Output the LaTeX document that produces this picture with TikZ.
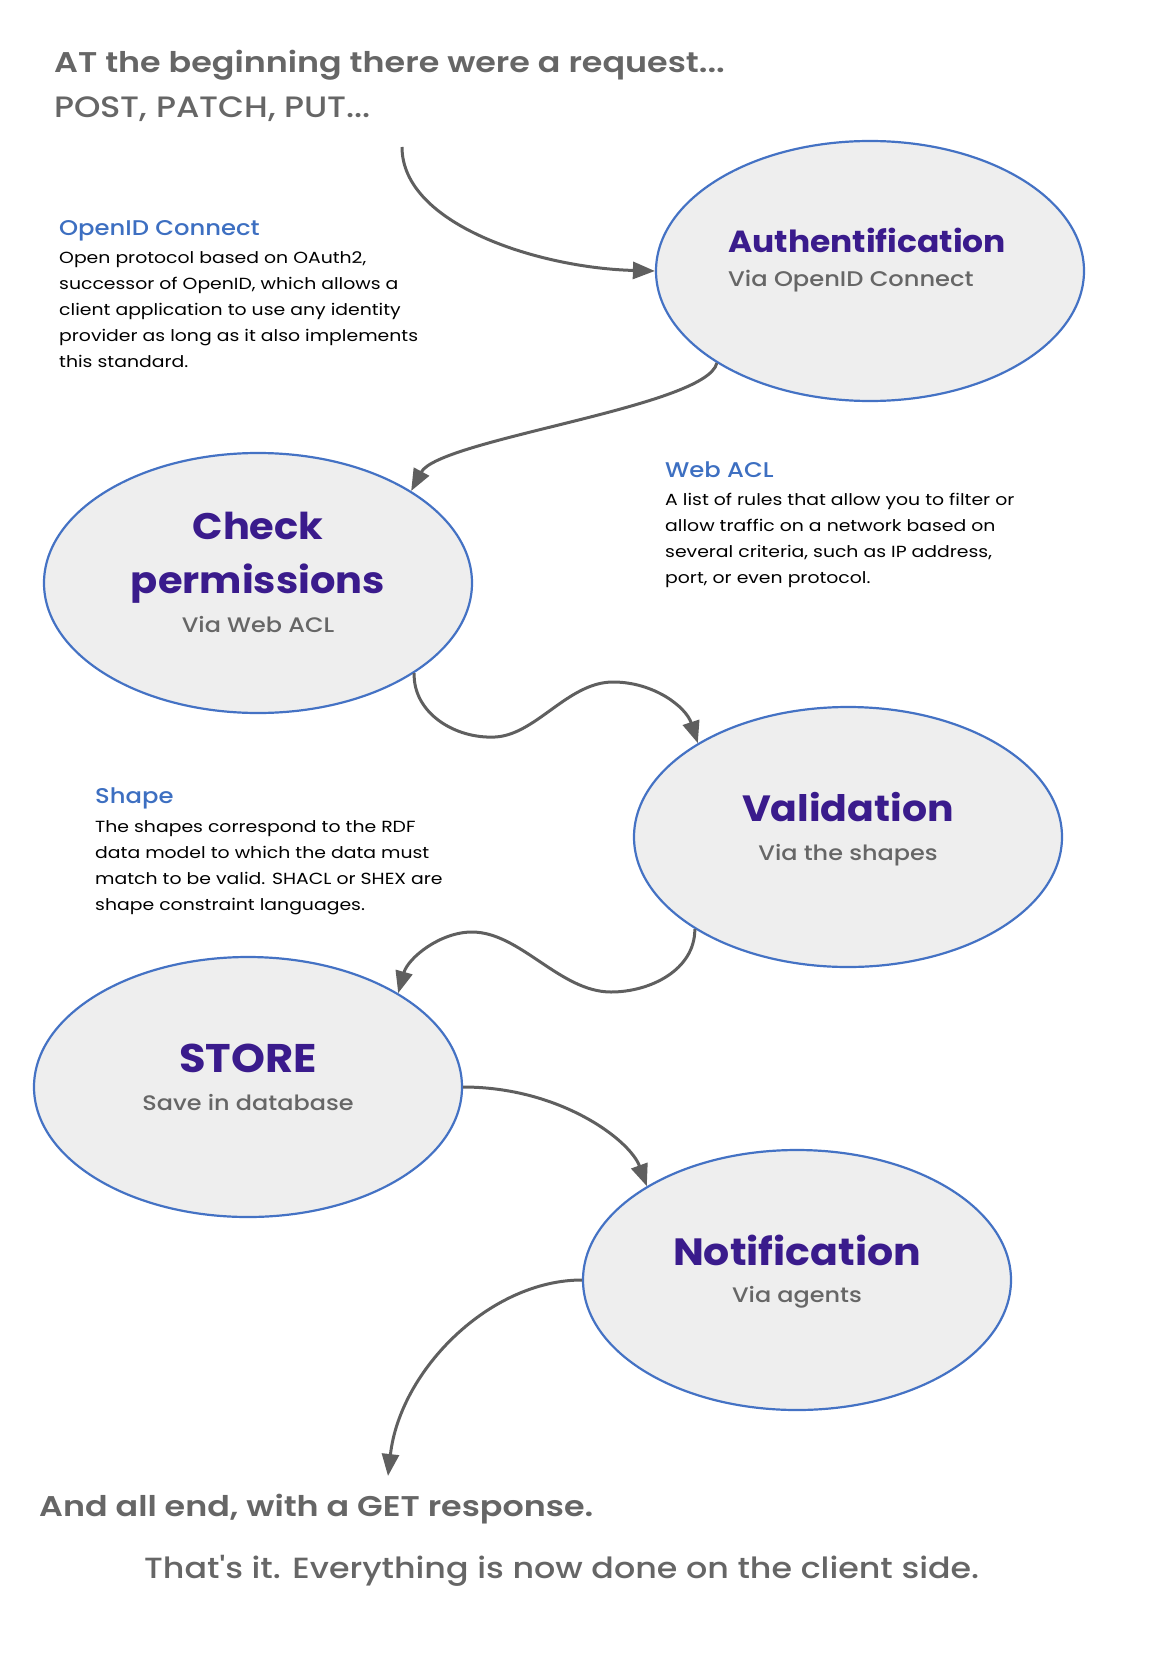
\documentclass[tikz,border=0pt]{standalone}
\usepackage{fontspec}
\setmainfont{Poppins}
\newfontfamily\widefont{Poppins}[FakeStretch=1.17, BoldFont={Poppins SemiBold}]
\newfontfamily\medfont{Poppins Medium}[FakeStretch=1.14]
\newfontfamily\titlefont{Poppins}[FakeStretch=1.08]
\usetikzlibrary{arrows.meta,shapes.geometric}
\definecolor{txtgray}{RGB}{102,102,102}
\definecolor{ellfill}{RGB}{238,238,238}
\definecolor{ellborder}{RGB}{68,114,196}
\definecolor{headblue}{RGB}{61,111,193}
\definecolor{stepviolet}{RGB}{58,27,140}
\definecolor{arrgray}{RGB}{95,95,95}
\tikzset{
  stepell/.style={ellipse, draw=ellborder, fill=ellfill, line width=2.2pt,
    minimum width=428pt, minimum height=260pt, inner sep=0pt},
  steptitle/.style={text=stepviolet, font=\titlefont\bfseries\fontsize{38}{44}\selectfont, inner sep=0pt, anchor=base},
  stepsub/.style={text=txtgray, font=\medfont\fontsize{21}{25}\selectfont, inner sep=0pt, anchor=base},
  notehead/.style={text=headblue, font=\medfont\fontsize{21.3}{25}\selectfont, inner sep=0pt, anchor=base west},
  notebody/.style={text=black, font=\widefont\fontsize{16.1}{26}\selectfont, inner sep=0pt, anchor=base west, align=left},
  bigline/.style={text=txtgray, font=\medfont\fontsize{28.5}{34}\selectfont, inner sep=0pt, anchor=base west},
  flow/.style={draw=arrgray, line width=3pt, -{Triangle[length=22pt,width=17pt]}},
}
\begin{document}
\begin{tikzpicture}[x=1pt,y=-1pt]
\useasboundingbox (0,0) rectangle (1164,1680);
% headline
\node[bigline, font=\widefont\bfseries\fontsize{28.5}{34}\selectfont] (head1) at (54,73) {AT the beginning there were a request...};
\node[bigline, font=\medfont\fontsize{29.5}{34}\selectfont] (head2) at (54,118) {POST, PATCH, PUT...};
% ellipses
\node[stepell] (auth) at (870,271) {};
\node[stepell] (perm) at (258,583) {};
\node[stepell] (val) at (848,837) {};
\node[stepell] (store) at (248,1087) {};
\node[stepell] (notif) at (797,1280) {};
% ellipse texts
\node[steptitle, anchor=base west, font=\titlefont\bfseries\fontsize{30.5}{36}\selectfont] (authT) at (728,253) {Authentification};
\node[stepsub, anchor=base west, font=\medfont\fontsize{21.2}{25}\selectfont] (authS) at (728,287) {Via OpenID Connect};
\node[steptitle, font=\titlefont\bfseries\fontsize{37}{44}\selectfont] (permT1) at (258,539) {Check};
\node[steptitle, font=\titlefont\bfseries\fontsize{37}{44}\selectfont] (permT2) at (258,593) {permissions};
\node[stepsub] (permS) at (258,632) {Via Web ACL};
\node[steptitle, font=\titlefont\bfseries\fontsize{36.5}{44}\selectfont] (valT) at (848,821) {Validation};
\node[stepsub] (valS) at (848,860) {Via the shapes};
\node[steptitle, font=\titlefont\bfseries\fontsize{40}{44}\selectfont] (storeT) at (248,1072) {STORE};
\node[stepsub] (storeS) at (248,1110) {Save in database};
\node[steptitle] (notifT) at (797,1265) {Notification};
\node[stepsub] (notifS) at (797,1302) {Via agents};
% notes (body nodes anchored at the baseline of their last line)
\node[notehead] (oidH) at (59,236) {OpenID Connect};
\node[notebody] (oidB) at (59,367) {Open protocol based on OAuth2,\\successor of OpenID, which allows a\\client application to use any identity\\provider as long as it also implements\\this standard.};
\node[notehead] (aclH) at (665,477) {Web ACL};
\node[notebody] (aclB) at (665,583) {A list of rules that allow you to filter or\\allow traffic on a network based on\\several criteria, such as IP address,\\port, or even protocol.};
\node[notehead] (shpH) at (95,803) {Shape};
\node[notebody] (shpB) at (95,910) {The shapes correspond to the RDF\\data model to which the data must\\match to be valid. SHACL or SHEX are\\shape constraint languages.};
% footer
\node[bigline, font=\widefont\bfseries\fontsize{28.5}{34}\selectfont] (foot1) at (39,1516) {And all end, with a GET response.};
\node[bigline, font=\medfont\fontsize{29.2}{34}\selectfont] (foot2) at (144,1578) {That's it. Everything is now done on the client side.};
% connectors
\coordinate (start) at (402,147);
\coordinate (finish) at (388,1476);
\draw[flow] (start) .. controls (402,225) and (540,268) .. (auth.west);
\draw[flow] (auth.211) .. controls (707,407) and (439,439) .. (perm.31);
\draw[flow] (perm.-30) .. controls (413,713) and (455,739) .. (495,737)
  .. controls (536,735) and (568,682) .. (613,682)
  .. controls (654,682) and (686,707) .. (val.148);
\draw[flow] (val.211) .. controls (695,970) and (650,992) .. (611,992)
  .. controls (560,992) and (520,932) .. (472,932)
  .. controls (440,932) and (408,958) .. (store.32);
\draw[flow] (store.east) .. controls (560,1087) and (630,1140) .. (notif.148);
\draw[flow] (notif.west) .. controls (490,1280) and (400,1370) .. (finish);
\end{tikzpicture}
\end{document}
